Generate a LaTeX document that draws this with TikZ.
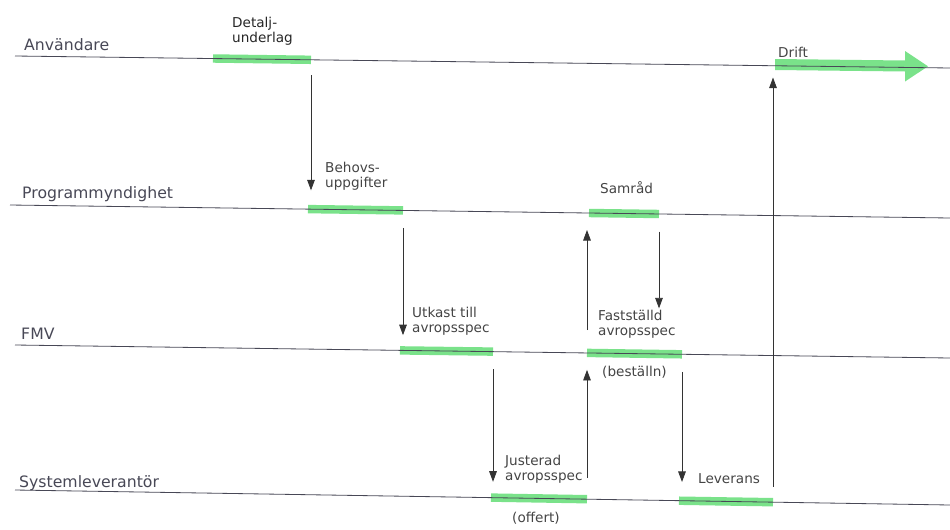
\documentclass[tikz,border=0pt]{standalone}
\usepackage{fontspec}
\setmainfont{DejaVu Sans}
\usetikzlibrary{arrows.meta,calc}
\definecolor{barGreen}{RGB}{122,226,138}
\definecolor{laneGray}{RGB}{72,72,86}
\definecolor{textGray}{RGB}{68,68,68}

\begin{document}
\begin{tikzpicture}[x=0.03cm, y=-0.03cm, line join=round, >={Triangle[length=9pt,width=6.5pt]},
	lane/.style={draw=laneGray, line width=0.7pt},
	lanename/.style={anchor=base west, inner sep=0pt, text=laneGray, font=\fontsize{13.4}{15}\selectfont},
	actbar/.style={draw=barGreen, line width=7.2pt},
	note/.style={anchor=base west, inner sep=0pt, align=left, text=textGray, font=\fontsize{11.6}{12.8}\selectfont},
	flow/.style={->, draw=black!80, line width=0.7pt}]
	\useasboundingbox (0,0) rectangle (950,529);
	\def \xl{15};
	\def \xr{950};
	% bar ends on the four lanes
	\coordinate (detL) at (213,58.5);   \coordinate (detR) at (311,59.8);
	\coordinate (drL)  at (775,65.8);
	\coordinate (behL) at (308,209.1);  \coordinate (behR) at (403,210.4);
	\coordinate (samL) at (589,213.0);  \coordinate (samR) at (659,214.0);
	\coordinate (utkL) at (400,350.4);  \coordinate (utkR) at (493,351.6);
	\coordinate (fasL) at (587,352.9);  \coordinate (fasR) at (682,354.3);
	\coordinate (jusL) at (491,497.6);  \coordinate (jusR) at (587,499.2);
	\coordinate (levL) at (679,500.7);  \coordinate (levR) at (773,502.2);
	\foreach \a/\b in {detL/detR, behL/behR, samL/samR, utkL/utkR, fasL/fasR, jusL/jusR, levL/levR}
	\draw[actbar] (\a) -- (\b);
	\fill[barGreen] (775,59) -- (905,60.5) -- (905,51) -- (928,66.3) -- (905,81.5) -- (905,71.5) -- (775,70) -- cycle;
	% lanes
	\draw[lane] (\xl,56) -- (\xr,68);
	\draw[lane] (10,205) -- (\xr,218);
	\draw[lane] (\xl,345) -- (\xr,358);
	\draw[lane] (\xl,490) -- (\xr,505);
	\node[lanename] (anv) at (24,50) {Användare};
	\node[lanename] (prog) at (22,198) {Programmyndighet};
	\node[lanename] (fmv) at (21,339) {FMV};
	\node[lanename] (sys) at (19,487) {Systemleverantör};
	% labels
	\node[note, text=black!85] (det) at (232,42) {Detalj-\\underlag};
	\node[note] (drift) at (778,57) {Drift};
	\node[note] (beh) at (325,187) {Behovs-\\uppgifter};
	\node[note] (sam) at (600,193) {Samråd};
	\node[note] (utk) at (412,332) {Utkast till\\avropsspec};
	\node[note] (fas) at (598,335) {Fastställd\\avropsspec};
	\node[note] (best) at (602,376) {(beställn)};
	\node[note] (jus) at (505,480) {Justerad\\avropsspec};
	\node[note] (off) at (512,522) {(offert)};
	\node[note] (lev) at (698,483) {Leverans};
	% flow of work
	\draw[flow, shorten <=13pt, shorten >=16pt] (detR) -- (detR |- behL);
	\draw[flow, shorten <=15pt, shorten >=13pt] (behR) -- (behR |- utkL);
	\draw[flow, shorten <=15pt, shorten >=13.5pt] (utkR) -- (utkR |- jusL);
	\draw[flow, shorten <=18pt, shorten >=14.5pt] (jusR) -- (jusR |- fasL);
	\draw[flow, shorten <=19.5pt, shorten >=14.5pt] (fasL) -- (fasL |- samL);
	\draw[flow, shorten <=15pt, shorten >=38pt] (samR) -- (samR |- fasL);
	\draw[flow, shorten <=15pt, shorten >=16pt] (fasR) -- (fasR |- levL);
	\draw[flow, shorten <=13pt, shorten >=10pt] (levR) -- (levR |- drL);
\end{tikzpicture}
\end{document}
